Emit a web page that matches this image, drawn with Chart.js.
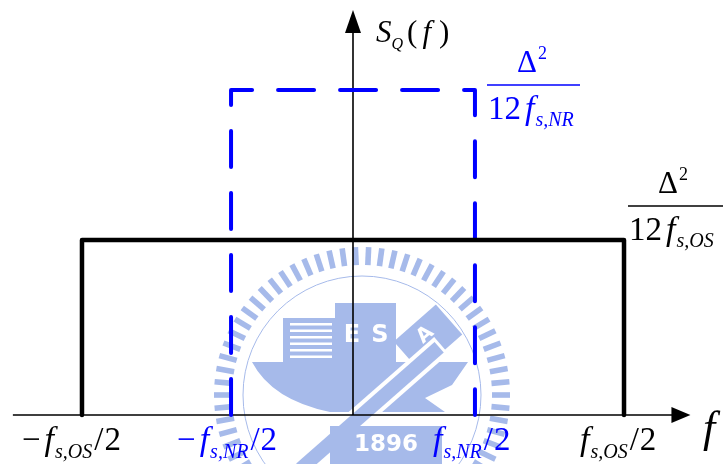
<!DOCTYPE html>
<html>
<head>
<meta charset="utf-8">
<script src="https://cdn.jsdelivr.net/npm/chart.js@4"></script>
<style>
  html, body { margin: 0; padding: 0; background: #fff; }
  #wrap { width: 723px; height: 464px; }
</style>
</head>
<body>
<div id="wrap"><canvas id="psd" width="723" height="464"></canvas></div>
<script>
// band edges (frequency, arbitrary units) and PSD levels
const edgesOS = [-4, 4];        // -fs,OS/2 .. fs,OS/2
const edgesNR = [-1.8, 1.8];    // -fs,NR/2 .. fs,NR/2
const levelOS = 1;              // Δ²/(12 fs,OS)
const levelNR = 1.857;          // Δ²/(12 fs,NR)
const axisX = [-5.02, 4.98];    // horizontal axis extent
const axisYTop = 2.314;         // vertical axis extent
const subOS = "s,OS";
const subNR = "s,NR";

const SERIF = "'Liberation Serif'";
const BLUE = "#0000ff";
const MARK = "#a6baea";

function rectPoints(edges, level) {
  return [
    { x: edges[0], y: 0 },
    { x: edges[0], y: level },
    { x: edges[1], y: level },
    { x: edges[1], y: 0 },
  ];
}

// draw a sequence of text pieces (font, dy) starting at x, baseline y
function runs(ctx, x, y, parts, color) {
  ctx.fillStyle = color;
  ctx.textBaseline = "alphabetic";
  ctx.textAlign = "left";
  parts.forEach((p) => {
    ctx.font = p.f;
    const dx = p.dx || 0;
    ctx.fillText(p.t, x + dx, y + (p.dy || 0));
    x += dx + ctx.measureText(p.t).width;
  });
  return x;
}

const big = "italic 34px " + SERIF;
const num = "33px " + SERIF;
const sub = "italic 20px " + SERIF;
const sup = "18px " + SERIF;

function freqLabel(ctx, left, neg, subText, color) {
  const parts = [];
  if (neg) parts.push({ t: "−", f: num });
  parts.push({ t: "f", f: big, dx: neg ? 4 : 0 });
  parts.push({ t: subText, f: sub, dy: 8, dx: 1 });
  parts.push({ t: "/", f: num, dx: 2 });
  parts.push({ t: "2", f: num, dx: 1 });
  runs(ctx, left, 450, parts, color);
}

function fraction(ctx, left, lineY, width, subText, color) {
  ctx.strokeStyle = color;
  ctx.lineWidth = 1.5;
  ctx.beginPath();
  ctx.moveTo(left, lineY);
  ctx.lineTo(left + width, lineY);
  ctx.stroke();
  runs(ctx, left + 30, lineY - 13, [
    { t: "Δ", f: "31px " + SERIF },
    { t: "2", f: sup, dy: -13, dx: 1 },
  ], color);
  runs(ctx, left + 1, lineY + 34, [
    { t: "12", f: num },
    { t: "f", f: big, dx: 4 },
    { t: subText, f: sub, dy: 7, dx: 1 },
  ], color);
}

// faint emblem behind the plot
function emblem(ctx) {
  const cx = 362, cy = 395;
  ctx.save();
  ctx.fillStyle = MARK;
  ctx.strokeStyle = MARK;
  const teeth = 70;
  for (let i = 0; i < teeth; i++) {
    const a = (i / teeth) * Math.PI * 2;
    ctx.save();
    ctx.translate(cx, cy);
    ctx.rotate(a);
    ctx.fillRect(130, -2.8, 18, 5.6);
    ctx.restore();
  }
  ctx.lineWidth = 1;
  ctx.beginPath();
  ctx.arc(cx, cy, 119, 0, Math.PI * 2);
  ctx.stroke();

  // base
  ctx.beginPath();
  ctx.moveTo(252, 362);
  ctx.lineTo(468, 362);
  ctx.lineTo(452, 385);
  ctx.lineTo(425, 398);
  ctx.lineTo(445, 412);
  ctx.lineTo(330, 412);
  ctx.quadraticCurveTo(272, 400, 252, 362);
  ctx.fill();
  // buildings
  ctx.fillRect(283, 318, 56, 46);
  ctx.fillRect(335, 303, 30, 61);
  ctx.fillRect(363, 303, 33, 61);
  ctx.save();
  ctx.translate(428, 338);
  ctx.rotate(-0.72);
  ctx.fillRect(-28, -20, 56, 40);
  ctx.fillStyle = "#fff";
  ctx.font = "bold 20px 'DejaVu Sans'";
  ctx.textAlign = "center";
  ctx.textBaseline = "middle";
  ctx.fillText("A", 0, -4);
  ctx.restore();
  ctx.fillStyle = "#fff";
  for (let y = 323; y < 360; y += 6.5) ctx.fillRect(290, y, 42, 2.5);
  ctx.font = "bold 24px 'DejaVu Sans'";
  ctx.textAlign = "center";
  ctx.textBaseline = "middle";
  ctx.fillText("E", 352, 336);
  ctx.fillText("S", 380, 336);
  // diagonal bar
  ctx.save();
  ctx.translate(370, 408);
  ctx.rotate(-0.72);
  ctx.fillStyle = "#fff";
  ctx.fillRect(-95, -11, 190, 22);
  ctx.fillStyle = MARK;
  ctx.fillRect(-92, -7, 184, 14);
  ctx.restore();
  // year band
  ctx.fillStyle = MARK;
  ctx.fillRect(330, 426, 112, 38);
  ctx.fillStyle = "#fff";
  ctx.font = "bold 23px 'DejaVu Sans'";
  ctx.fillText("1896", 386, 445);
  ctx.restore();
}

const diagram = {
  id: "diagram",
  beforeDatasetsDraw(chart) {
    const { ctx, scales: { x, y } } = chart;
    emblem(ctx);
    const x0 = x.getPixelForValue(0), y0 = y.getPixelForValue(0);
    const xl = x.getPixelForValue(axisX[0]), xr = x.getPixelForValue(axisX[1]);
    const yt = y.getPixelForValue(axisYTop);
    ctx.save();
    ctx.strokeStyle = "#000";
    ctx.fillStyle = "#000";
    ctx.lineWidth = 1.6;
    ctx.beginPath();
    ctx.moveTo(xl, y0);
    ctx.lineTo(xr - 16, y0);
    ctx.moveTo(x0, y0);
    ctx.lineTo(x0, yt + 18);
    ctx.stroke();
    ctx.beginPath();
    ctx.moveTo(xr, y0);
    ctx.lineTo(xr - 19, y0 - 8);
    ctx.lineTo(xr - 19, y0 + 8);
    ctx.closePath();
    ctx.fill();
    ctx.beginPath();
    ctx.moveTo(x0, yt);
    ctx.lineTo(x0 - 8, yt + 23);
    ctx.lineTo(x0 + 8, yt + 23);
    ctx.closePath();
    ctx.fill();
    ctx.restore();
  },
  afterDraw(chart) {
    const { ctx, scales: { x, y } } = chart;
    ctx.save();
    // axis names
    runs(ctx, 376, 42, [
      { t: "S", f: "italic 31px " + SERIF },
      { t: "Q", f: "italic 16px " + SERIF, dy: 7 },
      { t: "(", f: "31px " + SERIF, dx: 4 },
      { t: "f", f: "italic 31px " + SERIF, dx: 5 },
      { t: ")", f: "31px " + SERIF, dx: 8 },
    ], "#000");
    runs(ctx, 703, 442, [{ t: "f", f: "italic 44px " + SERIF }], "#000");

    // band edge labels
    const pOS = edgesOS.map((v) => x.getPixelForValue(v));
    const pNR = edgesNR.map((v) => x.getPixelForValue(v));
    freqLabel(ctx, pOS[0] - 60, true, subOS, "#000");
    freqLabel(ctx, pNR[0] - 54, true, subNR, BLUE);
    freqLabel(ctx, pNR[1] - 42, false, subNR, BLUE);
    freqLabel(ctx, pOS[1] - 44, false, subOS, "#000");

    // level labels
    fraction(ctx, 487, y.getPixelForValue(levelNR) - 5, 93, subNR, BLUE);
    fraction(ctx, 628, y.getPixelForValue(levelOS) - 34, 100, subOS, "#000");
    ctx.restore();
  },
};

new Chart(document.getElementById("psd"), {
  type: "scatter",
  data: {
    datasets: [
      {
        data: rectPoints(edgesOS, levelOS),
        showLine: true,
        borderColor: "#000",
        borderWidth: 4.5,
        borderJoinStyle: "round",
        borderCapStyle: "round",
        pointRadius: 0,
        tension: 0,
      },
      {
        data: rectPoints(edgesNR, levelNR),
        showLine: true,
        borderColor: BLUE,
        borderWidth: 4,
        borderDash: [36, 26],
        borderCapStyle: "round",
        borderJoinStyle: "round",
        pointRadius: 0,
        tension: 0,
      },
    ],
  },
  options: {
    responsive: false,
    animation: false,
    layout: { padding: 0 },
    plugins: { legend: { display: false }, tooltip: { enabled: false } },
    scales: {
      x: { type: "linear", display: false, min: -5.21, max: 5.461 },
      y: { type: "linear", display: false, min: -0.28, max: 2.3714 },
    },
  },
  plugins: [diagram],
});
</script>
</body>
</html>
